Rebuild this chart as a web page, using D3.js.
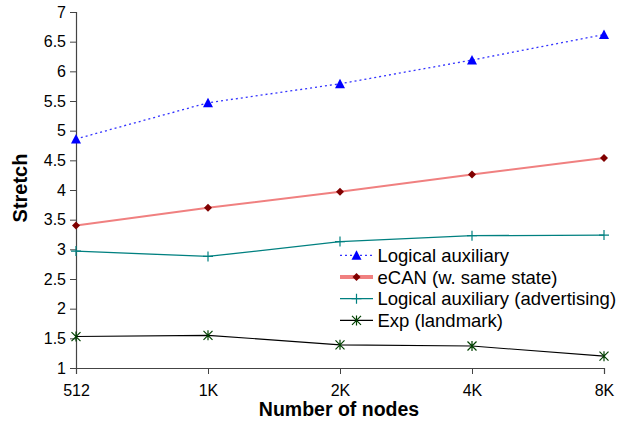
<!DOCTYPE html>
<html><head><meta charset="utf-8">
<script src="https://cdn.jsdelivr.net/npm/d3@7"></script>
<style>body{margin:0;background:#fff}svg text{font-family:"Liberation Sans",Arial,sans-serif}</style>
</head><body><svg id="c" width="626" height="424"></svg>
<script>
const categories = ["512","1K","2K","4K","8K"];
const logicalAux = [4.86,5.47,5.79,6.19,6.62];
const ecan = [3.40,3.70,3.97,4.26,4.54];
const logicalAdv = [2.97,2.88,3.13,3.23,3.24];
const expLandmark = [1.53,1.55,1.39,1.37,1.20];
const yTicks = [1,1.5,2,2.5,3,3.5,4,4.5,5,5.5,6,6.5,7];
const seriesNames = ["Logical auxiliary","eCAN (w. same state)","Logical auxiliary (advertising)","Exp (landmark)"];

const svg = d3.select("#c");
const x = d3.scalePoint().domain(categories).range([76,604]);
const y = d3.scaleLinear().domain([1,7]).range([368,12]);

// axes
const yAxis = svg.append("g").attr("transform","translate(76,0)")
  .call(d3.axisLeft(y).tickValues(yTicks).tickSize(6).tickPadding(4).tickFormat(d=>d3.format("")(d)));
const xAxis = svg.append("g").attr("transform","translate(0,368)")
  .call(d3.axisBottom(x).tickSize(6).tickPadding(11));
[yAxis,xAxis].forEach(g=>{
  g.select(".domain").attr("stroke","#444").attr("stroke-width",1.2);
  g.selectAll(".tick line").attr("stroke","#444");
  g.selectAll(".tick text").attr("fill","#000").attr("font-size",16);
});

svg.append("text").attr("x",339).attr("y",416).attr("text-anchor","middle")
  .attr("font-size",19.5).attr("font-weight","bold").text("Number of nodes");
svg.append("text").attr("transform","translate(26.5,188) rotate(-90)").attr("text-anchor","middle")
  .attr("font-size",20).attr("font-weight","bold").text("Stretch");

const line = d3.line().x((d,i)=>x(categories[i])).y(d=>y(d));

const styles = [
  {data:logicalAux, stroke:"#3333ff", w:1.3, dash:"2,3", marker:"tri", mc:"#0000ff"},
  {data:ecan, stroke:"#f08080", w:2, dash:null, marker:"diamond", mc:"#800000"},
  {data:logicalAdv, stroke:"#008080", w:1.3, dash:null, marker:"plus", mc:"#008080"},
  {data:expLandmark, stroke:"#000000", w:1.1, dash:null, marker:"star", mc:"#004000"}
];

function drawMarker(g, type, cx, cy, c){
  if(type==="tri"){
    g.append("path").attr("d",`M${cx},${cy-5}L${cx+5},${cy+4.5}L${cx-5},${cy+4.5}Z`).attr("fill",c);
  } else if(type==="diamond"){
    g.append("path").attr("d",`M${cx},${cy-4}L${cx+4},${cy}L${cx},${cy+4}L${cx-4},${cy}Z`).attr("fill",c);
  } else if(type==="plus"){
    g.append("path").attr("d",`M${cx-5},${cy}H${cx+5}M${cx},${cy-5}V${cy+5}`).attr("stroke",c).attr("stroke-width",1.2);
  } else if(type==="star"){
    g.append("path").attr("d",`M${cx-4.5},${cy-4.5}L${cx+4.5},${cy+4.5}M${cx-4.5},${cy+4.5}L${cx+4.5},${cy-4.5}M${cx},${cy-5}V${cy+5}`).attr("stroke",c).attr("stroke-width",1.2);
  }
}

styles.forEach(s=>{
  svg.append("path").datum(s.data).attr("d",line).attr("fill","none")
    .attr("stroke",s.stroke).attr("stroke-width",s.w).attr("stroke-dasharray",s.dash);
  const g = svg.append("g");
  s.data.forEach((v,i)=>drawMarker(g,s.marker,x(categories[i]),y(v),s.mc));
});

// legend
const lg = svg.append("g");
seriesNames.forEach((n,i)=>{
  const s = styles[i];
  const ly = 255.3 + i*21.7;
  lg.append("line").attr("x1",340).attr("x2",373).attr("y1",ly).attr("y2",ly)
    .attr("stroke",s.stroke).attr("stroke-width",i===1?4:s.w).attr("stroke-dasharray",s.dash);
  drawMarker(lg,s.marker,356.5,ly,s.mc);
  lg.append("text").attr("x",377.5).attr("y",ly+6.5).attr("font-size",18.5).text(n);
});
</script></body></html>
